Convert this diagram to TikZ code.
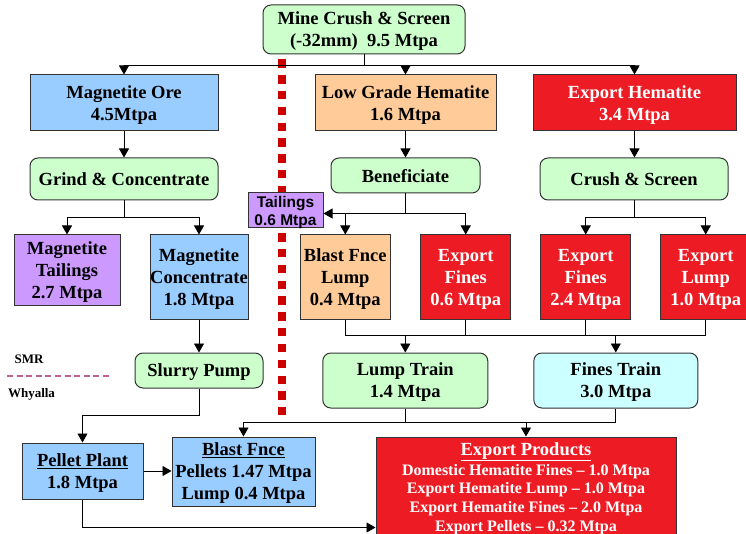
\documentclass[tikz,border=0pt]{standalone}
\usepackage{fontspec}
\setmainfont{Liberation Serif}
\newfontfamily\arialf{Liberation Sans}
\usetikzlibrary{arrows.meta,calc}
\definecolor{cgreen}{HTML}{CCFFCC}
\definecolor{cblue}{HTML}{99CCFF}
\definecolor{corange}{HTML}{FFCC99}
\definecolor{cred}{HTML}{ED1C24}
\definecolor{cpurple}{HTML}{CC99FF}
\definecolor{ccyan}{HTML}{CCFFFF}
\definecolor{cdot}{HTML}{CC0000}
\definecolor{cmauve}{HTML}{C0608F}
\definecolor{cborder}{HTML}{333333}
\begin{document}
\begin{tikzpicture}[x=1pt,y=-1pt,
  font=\bfseries\fontsize{18.5}{22}\selectfont,
  box/.style={draw=cborder, line width=1pt, inner sep=0pt, align=center, text=black, text depth=0pt},
  rbox/.style={box, rounded corners=8pt},
  redbox/.style={box, fill=cred, text=white},
  arr/.style={-{Triangle[length=9pt,width=10pt]}, line width=0.9pt},
  conn/.style={line width=0.9pt},
  legend/.style={inner sep=0pt, font=\bfseries\fontsize{13}{15}\selectfont}
]
\useasboundingbox (0,0) rectangle (746,534);

% red dotted boundary line
\coordinate (dtop) at (282.2,59.5);
\coordinate (dbot) at (282.2,420);
\draw[cdot, line width=8.3pt, dash pattern=on 8.3pt off 7.5pt] (dtop) -- (dbot);

% SMR / Whyalla legend
\node[legend] (smr) at (29,359) {SMR};
\node[legend] (why) at (31.5,394) {Whyalla};
\coordinate (dl) at (7,376);
\coordinate (dr) at (111,376);
\draw[cmauve, line width=1.2pt, dash pattern=on 6pt off 3.6pt] (dl) -- (dr);

% top row
\node[rbox, fill=cgreen, minimum width=202pt, minimum height=49pt] (mine) at (364,29.5) {Mine Crush \& Screen\\(-32mm)\ \ 9.5 Mtpa};
\node[box, fill=cblue, minimum width=188pt, minimum height=56pt] (magore) at (124,103) {Magnetite Ore\\4.5Mtpa};
\node[box, fill=corange, minimum width=181pt, minimum height=56pt] (lowgrade) at (405.5,103) {Low Grade Hematite\\1.6 Mtpa};
\node[redbox, minimum width=203pt, minimum height=56pt] (exphem) at (634.5,103) {Export Hematite\\3.4 Mtpa};

% process row
\node[rbox, fill=cgreen, minimum width=188pt, minimum height=42pt] (grind) at (124,179) {Grind \& Concentrate};
\node[rbox, fill=cgreen, minimum width=149pt, minimum height=35pt] (benef) at (405.5,175.5) {Beneficiate};
\node[rbox, fill=cgreen, minimum width=188pt, minimum height=42pt] (crush) at (634,179) {Crush \& Screen};

% tailings
\node[box, fill=cpurple, minimum width=75pt, minimum height=35pt, font=\arialf\bfseries\fontsize{15.5}{18}\selectfont] (tail) at (285.5,210.5) {Tailings\\0.6 Mtpa};

% product row
\node[box, fill=cpurple, minimum width=106pt, minimum height=70pt] (magtail) at (67,270) {Magnetite\\Tailings\\2.7 Mtpa};
\node[box, fill=cblue, minimum width=98pt, minimum height=84pt] (magconc) at (199,277) {Magnetite\\Concentrate\\1.8 Mtpa};
\node[box, fill=corange, minimum width=90.5pt, minimum height=84pt] (bfl) at (345.3,277) {Blast Fnce\\Lump\\0.4 Mtpa};
\node[redbox, minimum width=90pt, minimum height=84pt] (expf1) at (465.7,277) {Export\\Fines\\0.6 Mtpa};
\node[redbox, minimum width=90pt, minimum height=84pt] (expf2) at (585.7,277) {Export\\Fines\\2.4 Mtpa};
\node[redbox, minimum width=90pt, minimum height=84pt] (explump) at (705.7,277) {Export\\Lump\\1.0 Mtpa};

% trains / pump
\node[rbox, fill=cgreen, minimum width=128pt, minimum height=35pt] (slurry) at (199,370.5) {Slurry Pump};
\node[rbox, fill=cgreen, minimum width=165pt, minimum height=55pt] (lumptr) at (405.3,380.5) {Lump Train\\1.4 Mtpa};
\node[rbox, fill=ccyan, minimum width=164pt, minimum height=55pt] (finestr) at (615.8,380.5) {Fines Train\\3.0 Mtpa};

% bottom row
\node[box, fill=cblue, minimum width=121pt, minimum height=56pt] (pellet) at (82.5,471) {\underline{Pellet Plant}\\1.8 Mtpa};
\node[box, fill=cblue, minimum width=143pt, minimum height=69pt] (blastf) at (243.5,471.5) {\underline{Blast Fnce}\\Pellets 1.47 Mtpa\\Lump 0.4 Mtpa};
\node[redbox, minimum width=300pt, minimum height=100pt, font=\bfseries\fontsize{16}{18.8}\selectfont] (expprod) at (526,487) {{\fontsize{18.5}{22}\selectfont\underline{Export Products}}\\[1pt]Domestic Hematite Fines -- 1.0 Mtpa\\Export Hematite Lump -- 1.0 Mtpa\\Export Hematite Fines -- 2.0 Mtpa\\Export Pellets -- 0.32 Mtpa};

% connectors: top split
\draw[arr] (mine.south) -- ++(0,11) -| (magore.north);
\draw[arr] (mine.south) -- ++(0,11) -| (lowgrade.north);
\draw[arr] (mine.south) -- ++(0,11) -| (exphem.north);

\draw[arr] (magore) -- (grind);
\draw[arr] (lowgrade) -- (benef);
\draw[arr] (exphem.south) -- (exphem.south |- crush.north);

% grind split
\draw[arr] (grind.south) -- ++(0,17) -| (magtail.north);
\draw[arr] (grind.south) -- ++(0,17) -| (magconc.north);

% beneficiate split
\draw[conn] (benef.south) -- ++(0,20) coordinate (bj);
\draw[arr] (bj) -| (bfl.north);
\draw[arr] (bj) -| (expf1.north);
\draw[arr] (bj) -- (bj -| tail.east);

% crush split
\draw[arr] (crush.south) -- ++(0,17) -| (expf2.north);
\draw[arr] (crush.south) -- ++(0,17) -| (explump.north);

% product bus to trains
\draw[conn] (bfl.south) -- ++(0,16) coordinate (pbus) -| (explump.south);
\draw[conn] (expf1.south) -- (expf1.south |- pbus);
\draw[conn] (expf2.south) -- (expf2.south |- pbus);
\draw[arr] (pbus -| lumptr.north) -- (lumptr.north);
\draw[arr] (pbus -| finestr.north) -- (finestr.north);

% magnetite chain
\draw[arr] (magconc) -- (slurry);
\draw[arr] (slurry.south) -- ++(0,27) -| (pellet.north);
\draw[arr] (pellet.east) -- (pellet.east -| blastf.west);
\draw[arr] (pellet.south) -- ++(0,28) coordinate (pb) -- (pb -| expprod.west);

% trains to products
\draw[conn] (lumptr.south) -- ++(0,14) coordinate (tb);
\draw[conn] (finestr.south) |- (tb);
\draw[arr] (tb) -| (blastf.north);
\draw[arr] (tb -| expprod.north) -- (expprod.north);
\end{tikzpicture}
\end{document}
